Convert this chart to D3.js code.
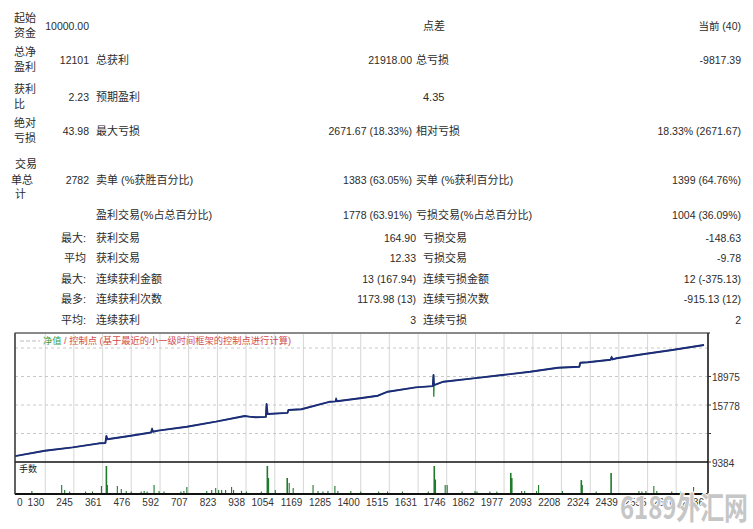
<!DOCTYPE html>
<html><head><meta charset="utf-8">
<script src="https://cdn.jsdelivr.net/npm/d3@7"></script>
<style>body{margin:0;background:#fff}svg{display:block}</style>
</head><body>
<svg id="c" width="753" height="529"></svg>
<script>
// ---------------- report table data ----------------
const rowHeads   = [["起始","资金"],["总净","盈利"],["获利","比"],["绝对","亏损"],["交易","单总","计"],[],["最大:"],["平均"],["最大:"],["最多:"],["平均:"]];
const col1Values = ["10000.00","12101","2.23","43.98","2782","","","","","",""];
const col2Labels = ["","总获利","预期盈利","最大亏损","卖单 (%获胜百分比)","盈利交易(%占总百分比)","获利交易","获利交易","连续获利金额","连续获利次数","连续获利"];
const col2Values = ["","21918.00","","2671.67 (18.33%)","1383 (63.05%)","1778 (63.91%)","164.90","12.33","13 (167.94)","1173.98 (13)","3"];
const col3Texts  = ["点差","总亏损","4.35","相对亏损","买单 (%获利百分比)","亏损交易(%占总百分比)","亏损交易","亏损交易","连续亏损金额","连续亏损次数","连续亏损"];
const col4Values = ["当前 (40)","-9817.39","","18.33% (2671.67)","1399 (64.76%)","1004 (36.09%)","-148.63","-9.78","12 (-375.13)","-915.13 (12)","2"];

// ---------------- chart data ----------------
const xTickLabels = ["0","130","245","361","476","592","707","823","938","1054","1169","1285","1400","1515","1631","1746","1862","1977","2093","2208","2324","2439","2555","2670","2786"];
const yTickValues = [9384,12581,15778,18975,22172];
const yTickLabels = ["9384","","15778","18975",""];

const balanceTrade = [0,128,240,348,372,376,380,468,556,560,564,584,700,817,933,950,977,1018,1021,1025,1105,1109,1161,1277,1299,1301,1304,1397,1469,1509,1621,1690,1693,1695,1733,1853,1970,2082,2194,2280,2284,2314,2406,2410,2414,2430,2542,2654,2782];
const balanceValue = [10000,10650,11030,11480,11520,12300,11930,12300,12700,13090,12780,12900,13340,13910,14550,14480,14400,14450,15890,14770,14900,15220,15300,16150,16180,16450,16200,16530,16820,17270,17760,17900,19140,18000,18390,18770,19140,19510,19960,20070,20520,20570,20850,21150,20900,21020,21500,21950,22510];
const equityDipTrade = [1694];
const equityDipValue = [16700];

const lotTrade = [76,196,208,228,292,320,356,376,380,420,436,456,476,516,528,540,568,588,608,676,688,700,780,800,816,828,840,856,880,888,920,940,1000,1024,1028,1056,1104,1112,1128,1208,1228,1248,1268,1296,1308,1360,1400,1472,1508,1568,1672,1696,1700,1740,1748,1808,1860,1868,1920,1948,2004,2008,2048,2060,2108,2116,2212,2288,2292,2348,2408,2520,2532,2548,2580,2592,2652,2688,2740];
const lotSize  = [0.07,0.27,0.1,0.05,0.03,0.03,0.23,0.9,0.27,0.23,0.13,0.07,0.05,0.05,0.07,0.05,0.27,0.07,0.05,0.05,0.07,0.2,0.07,0.1,0.17,0.1,0.1,0.1,0.2,0.1,0.07,0.05,0.05,0.9,0.5,0.1,0.5,0.33,0.17,0.27,0.07,0.05,0.07,0.23,0.07,0.07,0.05,0.05,0.05,0.05,0.05,0.9,0.45,0.27,0.27,0.05,0.07,0.05,0.05,0.05,0.67,0.5,0.07,0.07,0.07,0.27,0.07,0.43,0.27,0.05,0.67,0.07,0.05,0.07,0.23,0.07,0.05,0.05,0.2];

const legendBalance = "净值";
const legendModel = " / 控制点 (基于最近的小一级时间框架的控制点进行计算)";
const lotTitle = "手数";
const watermark = "6189外汇网";

// ---------------- drawing ----------------
const svg = d3.select("#c");
const FONT = "'Liberation Sans','Noto Sans CJK SC',sans-serif";
const NARROW = "'Liberation Sans Narrow','Liberation Sans',sans-serif";
const TXT = "#2b2b2b";
const rowY = [26,60,97,131,180,215,238,258,279,299,320];

const tbl = svg.append("g").attr("font-family", FONT).attr("font-size", 10.5).attr("fill", TXT);
function put(x, y, s, anchor, size) {
  if (!s) return;
  tbl.append("text").attr("x", x).attr("y", y).attr("dy", "0.35em")
    .attr("text-anchor", anchor).attr("font-size", size || null).text(s);
}
rowHeads.forEach((h, i) => {
  const yy = rowY[i];
  if (h.length === 2) { put(14, yy - 8, h[0], "start", 11); put(14, yy + 7, h[1], "start", 11); }
  else if (h.length === 3) { put(15, yy - 16, h[0], "start", 11); put(11, yy, h[1], "start", 11); put(15, yy + 14, h[2], "start", 11); }
  else if (h.length === 1) put(86, yy, h[0], "end", 11);
  put(89, yy, col1Values[i], "end");
  put(96, yy, col2Labels[i], "start", 11);
  put(i < 6 ? 412 : 416, yy, col2Values[i], "end");
  const c3x = (i >= 1 && i <= 5 && i !== 2) ? 416 : 423;
  put(c3x, yy, col3Texts[i], "start", 11);
  put(741, yy, col4Values[i], "end");
});

// chart scales
const L = 15, R = 708, T = 333, SEP = 462, B = 494;
const x = d3.scaleLinear().domain([0, 2786]).range([13, 705]);
const y = d3.scaleLinear().domain([9384, 22172]).range([462, 348]);
const yLot = d3.scaleLinear().domain([0, 1]).range([493, 463]);

const chart = svg.append("g");
svg.append("defs").append("clipPath").attr("id", "clipMain")
  .append("rect").attr("x", L).attr("y", T).attr("width", R - L).attr("height", SEP - T);

// vertical grid
xTickLabels.forEach(s => {
  const v = +s;
  if (v === 0 || v === 2786) return;
  chart.append("line").attr("x1", x(v)).attr("x2", x(v)).attr("y1", T).attr("y2", B)
    .attr("stroke", "#d6d6d6").attr("stroke-width", 1);
});
// horizontal grid
yTickValues.forEach(v => {
  if (v === 9384) return;
  chart.append("line").attr("x1", L).attr("x2", R).attr("y1", y(v)).attr("y2", y(v))
    .attr("stroke", "#c8c8c8").attr("stroke-dasharray", "3,3");
});

// lots
const lotIdx = d3.range(lotTrade.length);
chart.selectAll(".lot").data(lotIdx).join("line")
  .attr("x1", i => x(lotTrade[i])).attr("x2", i => x(lotTrade[i]))
  .attr("y1", yLot(0)).attr("y2", i => Math.min(yLot(lotSize[i]), yLot(0) - 1.5))
  .attr("stroke", "#1f7a2c").attr("stroke-width", i => lotSize[i] > 0.4 ? 1.6 : 1.1);

// equity (green) + balance (navy)
const balPts = balanceTrade.map((t, i) => [t, balanceValue[i]]);
const eqPts = balPts.concat(equityDipTrade.map((t, i) => [t, equityDipValue[i]])).sort((a, b) => a[0] - b[0]);
const line = d3.line().x(d => x(d[0])).y(d => y(d[1]));
const lines = chart.append("g").attr("clip-path", "url(#clipMain)");
lines.append("path").attr("d", line(eqPts)).attr("fill", "none").attr("stroke", "#2f8f3a").attr("stroke-width", 1.4);
lines.append("path").attr("d", line(balPts)).attr("fill", "none").attr("stroke", "#1e2b7c").attr("stroke-width", 1.9).attr("stroke-linejoin", "round");

// frame
chart.append("rect").attr("x", L).attr("y", T).attr("width", R - L).attr("height", B - T)
  .attr("fill", "none").attr("stroke", "#555").attr("stroke-width", 1);
chart.append("line").attr("x1", L).attr("x2", R + 2).attr("y1", T).attr("y2", T).attr("stroke", "#8a8a8a").attr("stroke-width", 2.2);
chart.append("line").attr("x1", L).attr("x2", R).attr("y1", SEP).attr("y2", SEP).attr("stroke", "#111").attr("stroke-width", 1.6);
chart.append("line").attr("x1", L).attr("x2", R).attr("y1", B).attr("y2", B).attr("stroke", "#111").attr("stroke-width", 2);
chart.append("line").attr("x1", R).attr("x2", R).attr("y1", T).attr("y2", B).attr("stroke", "#111").attr("stroke-width", 1.3);
chart.append("line").attr("x1", L).attr("x2", L).attr("y1", T).attr("y2", B).attr("stroke", "#333").attr("stroke-width", 1.2);

// y ticks
yTickValues.forEach((v, i) => {
  if (v === 22172) return;
  chart.append("line").attr("x1", R).attr("x2", R + 3).attr("y1", y(v)).attr("y2", y(v)).attr("stroke", "#333");
  if (yTickLabels[i]) chart.append("text").attr("x", R + 4).attr("y", y(v) + 1).attr("dy", "0.35em")
    .attr("font-family", NARROW).attr("font-size", 10).attr("fill", "#333").text(yTickLabels[i]);
});

// x tick labels
xTickLabels.forEach(s => {
  const v = +s;
  chart.append("text").attr("x", v === 0 ? 17 : x(v) - 1).attr("y", 502).attr("dy", "0.35em")
    .attr("text-anchor", v === 0 ? "start" : "end")
    .attr("font-family", NARROW).attr("font-size", 10).attr("fill", "#333").text(s);
});

// legend
chart.append("line").attr("x1", 20).attr("x2", 40).attr("y1", 341).attr("y2", 341).attr("stroke", "#bbb").attr("stroke-dasharray", "4,2");
const lg = chart.append("text").attr("x", 43).attr("y", 341).attr("dy", "0.35em")
  .attr("font-family", FONT).attr("font-size", 9).attr("textLength", 248).attr("lengthAdjust", "spacingAndGlyphs");
lg.append("tspan").attr("fill", "#3a9a3a").text(legendBalance);
lg.append("tspan").attr("fill", "#d24a4a").text(legendModel);

// lots title
chart.append("text").attr("x", 19).attr("y", 469).attr("dy", "0.35em")
  .attr("font-family", FONT).attr("font-size", 9).attr("fill", "#222").text(lotTitle);

// watermark
svg.append("text").attr("x", 620).attr("y", 519)
  .attr("font-family", "'Noto Sans CJK SC',sans-serif").attr("font-weight", "bold").attr("font-size", 31)
  .attr("textLength", 128).attr("lengthAdjust", "spacingAndGlyphs")
  .attr("fill", "#c6c6c6").attr("stroke", "#fff").attr("stroke-width", 2).attr("paint-order", "stroke")
  .text(watermark);
</script>
</body></html>
